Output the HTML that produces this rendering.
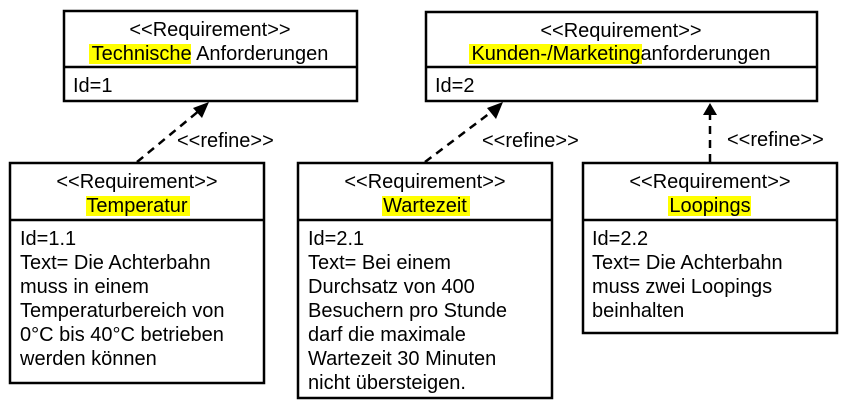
<!DOCTYPE html>
<html><head><style>body{margin:0;background:#fff}</style></head><body>
<svg width="847" height="403" xmlns="http://www.w3.org/2000/svg" font-family="Liberation Sans, Arial, sans-serif" font-size="20">
<g fill="#fff" stroke="#000" stroke-width="2.5">
<rect x="64" y="11" width="293" height="90"/>
<rect x="426" y="12" width="391" height="89"/>
<rect x="10" y="163" width="254" height="220"/>
<rect x="298" y="163" width="254" height="235"/>
<rect x="583" y="163" width="254" height="170"/>
</g>
<g stroke="#000" stroke-width="2.5">
<line x1="64" y1="67" x2="357" y2="67"/>
<line x1="426" y1="67" x2="817" y2="67"/>
<line x1="10" y1="220" x2="264" y2="220"/>
<line x1="298" y1="220" x2="552" y2="220"/>
<line x1="583" y1="220" x2="837" y2="220"/>
</g>
<g stroke="#000" stroke-width="2.5" stroke-dasharray="8,6" fill="none">
<line x1="137" y1="162" x2="200" y2="110"/>
<line x1="425" y1="162" x2="494" y2="110"/>
<line x1="710" y1="162" x2="710" y2="114"/>
</g>
<g fill="#000">
<polygon points="209,102 193,108 202,118"/>
<polygon points="503,102 487,108 496,119"/>
<polygon points="710,103 703,115 717,115"/>
</g>
<g fill="#ff0">
<rect x="89" y="44" width="102" height="20"/>
<rect x="469" y="44" width="173" height="20"/>
<rect x="86" y="196" width="104" height="20"/>
<rect x="382" y="196" width="88" height="20"/>
<rect x="668" y="196" width="83" height="20"/>
</g>
<g text-anchor="middle">
<text x="210" y="36">&lt;&lt;Requirement&gt;&gt;</text>
<text x="210" y="60">Technische Anforderungen</text>
<text x="621" y="37">&lt;&lt;Requirement&gt;&gt;</text>
<text x="621" y="60">Kunden-/Marketinganforderungen</text>
<text x="137" y="188">&lt;&lt;Requirement&gt;&gt;</text>
<text x="137" y="212">Temperatur</text>
<text x="425" y="188">&lt;&lt;Requirement&gt;&gt;</text>
<text x="425" y="212">Wartezeit</text>
<text x="710" y="188">&lt;&lt;Requirement&gt;&gt;</text>
<text x="710" y="212">Loopings</text>
</g>
<text x="73" y="92">Id=1</text>
<text x="435" y="92">Id=2</text>
<text x="177" y="147">&lt;&lt;refine&gt;&gt;</text>
<text x="482" y="147">&lt;&lt;refine&gt;&gt;</text>
<text x="727" y="146">&lt;&lt;refine&gt;&gt;</text>
<text x="20" y="245">Id=1.1</text>
<text x="20" y="269">Text= Die Achterbahn</text>
<text x="20" y="293">muss in einem</text>
<text x="20" y="317">Temperaturbereich von</text>
<text x="20" y="341">0°C bis 40°C betrieben</text>
<text x="20" y="365">werden können</text>
<text x="308" y="245">Id=2.1</text>
<text x="308" y="269">Text= Bei einem</text>
<text x="308" y="293">Durchsatz von 400</text>
<text x="308" y="317">Besuchern pro Stunde</text>
<text x="308" y="341">darf die maximale</text>
<text x="308" y="365">Wartezeit 30 Minuten</text>
<text x="308" y="389">nicht übersteigen.</text>
<text x="592" y="245">Id=2.2</text>
<text x="592" y="269">Text= Die Achterbahn</text>
<text x="592" y="293">muss zwei Loopings</text>
<text x="592" y="317">beinhalten</text>
</svg>
</body></html>
